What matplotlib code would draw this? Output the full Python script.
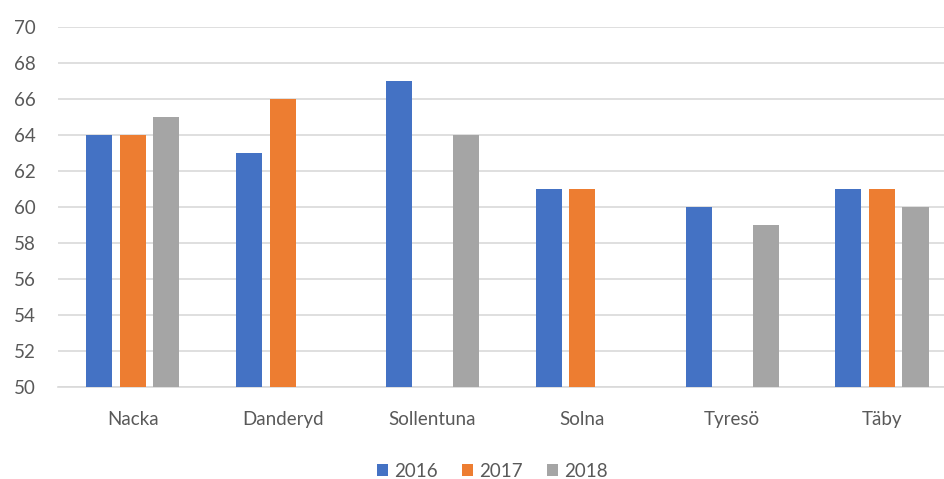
import matplotlib
matplotlib.use("Agg")
import matplotlib.pyplot as plt
import numpy as np

# Data (missing bars -> nan)
categories = ["Nacka", "Danderyd", "Sollentuna", "Solna", "Tyresö", "Täby"]
years = ["2016", "2017", "2018"]
values_2016 = [64, 63, 67, 61, 60, 61]
values_2017 = [64, 66, np.nan, 61, np.nan, 61]
values_2018 = [65, np.nan, 64, np.nan, 59, 60]
y_ticks = [50, 52, 54, 56, 58, 60, 62, 64, 66, 68, 70]

colors = ["#4472C4", "#ED7D31", "#A5A5A5"]
text_color = "#595959"

plt.rcParams["font.family"] = ["Lato", "DejaVu Sans"]

fig = plt.figure(figsize=(9.44, 4.79), dpi=100)
ax = fig.add_axes([0.0614, 0.192, 0.9386, 0.7516])

x = np.arange(len(categories))
width = 0.174
step = 0.224
series = [values_2016, values_2017, values_2018]
for i, (vals, year, col) in enumerate(zip(series, years, colors)):
    vals = np.array(vals, dtype=float)
    ax.bar(x + (i - 1) * step, vals - 50, bottom=50, width=width,
           color=col, label=year, zorder=3)

ax.set_ylim(50, 70)
ax.set_xlim(-0.5, 5.414)
ax.set_yticks(y_ticks)
ax.set_xticks(x)
ax.set_xticklabels(categories)
ax.yaxis.grid(True, color="#D9D9D9", linewidth=1.2, zorder=0)
for side in ["top", "right", "left"]:
    ax.spines[side].set_visible(False)
ax.spines["bottom"].set_color("#D9D9D9")
ax.spines["bottom"].set_linewidth(1.2)
ax.tick_params(axis="both", length=0, labelsize=13.5, colors=text_color)
ax.tick_params(axis="x", pad=17)
ax.tick_params(axis="y", pad=16)

ax.legend(loc="upper center", bbox_to_anchor=(0.49, -0.163), ncol=3,
          frameon=False, fontsize=13.5, handlelength=0.6, handleheight=0.6,
          handletextpad=0.3, columnspacing=1.3, labelcolor=text_color)

fig.savefig("out.png", dpi=100)
